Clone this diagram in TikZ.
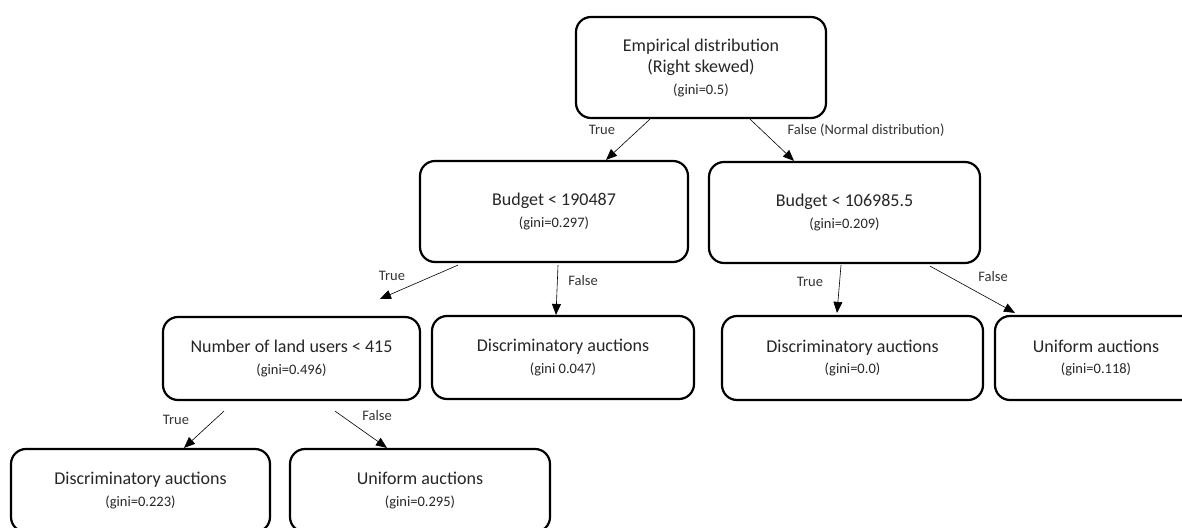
\documentclass[tikz,border=0pt]{standalone}
\usepackage{fontspec}
\setmainfont{Carlito}
\usetikzlibrary{arrows.meta}

\begin{document}
\begin{tikzpicture}[x=1pt,y=-1pt]
  \tikzset{tree box/.style={draw,line width=2.2pt,rounded corners=15pt,align=center,
      minimum width=#1,font=\fontsize{18}{21.5}\selectfont,text=black!85},
    tree box/.default=260pt,
    edge/.style={draw,line width=0.6pt,-{Triangle[length=11pt,width=9pt]}},
    branch/.style={font=\fontsize{14.5}{16}\selectfont,text=black!80}}
  \newcommand{\gini}[1]{{\fontsize{14.5}{16}\selectfont(gini#1)}}

  \clip (0,0) rectangle (1182,527);
  \fill[white] (0,0) rectangle (1182,527);

  \node [tree box=250pt,minimum height=101pt] (root) at (701,67.5) {Empirical distribution\\(Right skewed)\\\gini{=0.5}};
  \node [tree box=268pt,minimum height=101pt] (budA) at (554,211.5) {Budget < 190487\\\gini{=0.297}};
  \node [tree box=271pt,minimum height=101pt] (budB) at (844.5,212.5) {Budget < 106985.5\\\gini{=0.209}};
  \node [tree box=257pt,minimum height=83pt] (users) at (291.5,358.5) {Number of land users < 415\\\gini{=0.496}};
  \node [tree box=262pt,minimum height=83pt] (discA) at (563,357.5) {Discriminatory auctions\\\gini{ 0.047}};
  \node [tree box=261pt,minimum height=84pt] (discB) at (852.5,358) {Discriminatory auctions\\\gini{=0.0}};
  \node [tree box=202pt,minimum height=84pt] (unifA) at (1096,358) {Uniform auctions\\\gini{=0.118}};
  \node [tree box=259pt,minimum height=83pt] (discC) at (140.5,490.5) {Discriminatory auctions\\\gini{=0.223}};
  \node [tree box=260pt,minimum height=83pt] (unifB) at (420,490.5) {Uniform auctions\\\gini{=0.295}};

  \draw[edge] ([xshift=-51pt]root.south) -- ([xshift=52pt]budA.north);
  \draw[edge] ([xshift=49pt]root.south) -- ([xshift=-50.5pt]budB.north);
  \draw[edge] ([xshift=-96pt,yshift=-2pt]budA.south) -- ([xshift=88.5pt,yshift=17pt]users.north);
  \draw[edge] ([xshift=4pt,yshift=-2pt]budA.south) -- ([xshift=-7pt]discA.north);
  \draw[edge] ([xshift=-3.5pt,yshift=-1pt]budB.south) -- ([xshift=-15.5pt,yshift=2pt]discB.north);
  \draw[edge] ([xshift=85.5pt,yshift=-2pt]budB.south) -- ([xshift=-81pt,yshift=2pt]unifA.north);
  \draw[edge] ([xshift=-67.5pt,yshift=-10pt]users.south) -- ([xshift=43.5pt]discC.north);
  \draw[edge] ([xshift=43.5pt,yshift=-10pt]users.south) -- ([xshift=-33pt]unifB.north);

  \node[branch] at (602,130) {True};
  \node[branch] at (866,130) {False (Normal distribution)};
  \node[branch] at (392,276) {True};
  \node[branch] at (583,281) {False};
  \node[branch] at (810,282) {True};
  \node[branch] at (993,277) {False};
  \node[branch] at (176,420) {True};
  \node[branch] at (377,416) {False};
\end{tikzpicture}
\end{document}
